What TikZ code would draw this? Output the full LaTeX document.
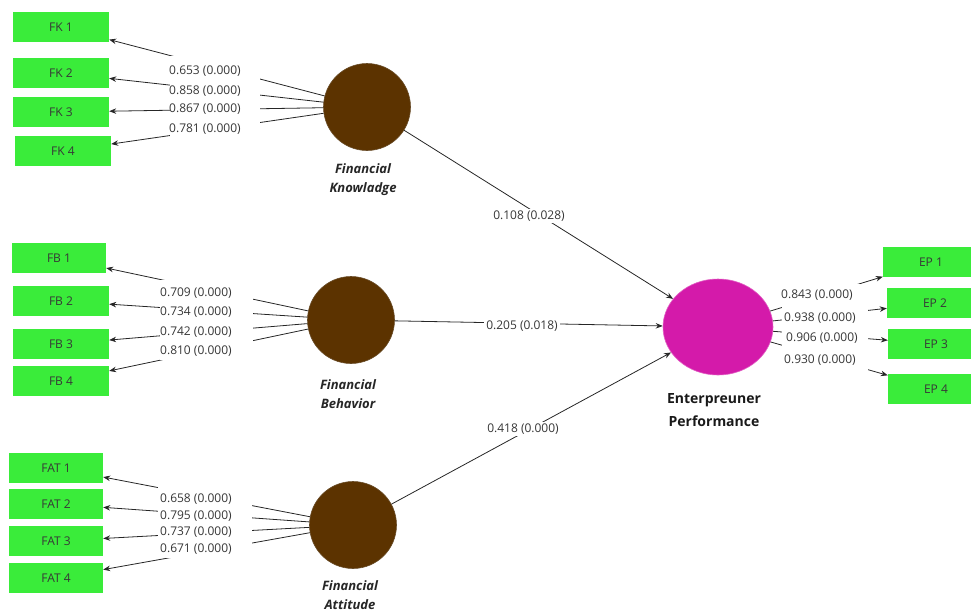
\documentclass[tikz,border=0pt]{standalone}
\usepackage{fontspec}
\setmainfont{Open Sans}
\usetikzlibrary{arrows.meta,shapes.geometric}
\definecolor{indgreen}{RGB}{58,236,58}
\definecolor{latbrown}{RGB}{92,51,0}
\definecolor{epmag}{RGB}{212,26,170}
\definecolor{txtgray}{RGB}{55,55,55}
\begin{document}
\begin{tikzpicture}[x=1pt,y=-1pt,
  ind/.style={fill=indgreen, minimum width=96pt, minimum height=30pt, inner sep=0pt,
    font=\fontsize{12}{14}\selectfont, text=txtgray},
  lat/.style={circle, fill=latbrown, draw=latbrown!70!gray, line width=0.6pt, minimum size=87pt, inner sep=0pt},
  ldg/.style={font=\fontsize{12}{14}\selectfont, anchor=west, inner sep=0pt, text=txtgray},
  cover/.style={fill=white, draw=none, inner sep=0pt},
  arr/.style={-{Stealth[length=7pt,width=5.5pt]}, line width=0.8pt, draw=black!85},
  lname/.style={font=\fontsize{13}{19}\selectfont\bfseries\itshape, align=center, text=black!85},
  ename/.style={font=\fontsize{14}{23}\selectfont\bfseries, align=center, text=black!90},
  pathlbl/.style={fill=white, inner sep=2pt, font=\fontsize{12}{14}\selectfont, text=txtgray}
]
\useasboundingbox (0,0) rectangle (971,611);
\clip (0,0) rectangle (971,611);

% indicators
\node[ind] (fk1) at (61,27) {FK 1};
\node[ind] (fk2) at (61,73) {FK 2};
\node[ind] (fk3) at (61,112) {FK 3};
\node[ind] (fk4) at (63,151) {FK 4};
\node[ind, minimum width=94pt] (fb1) at (59,258) {FB 1};
\node[ind] (fb2) at (61,301) {FB 2};
\node[ind] (fb3) at (61,344) {FB 3};
\node[ind] (fb4) at (61,381) {FB 4};
\node[ind, minimum width=94pt] (fat1) at (56,468) {FAT 1};
\node[ind, minimum width=94pt] (fat2) at (56,504) {FAT 2};
\node[ind, minimum width=94pt] (fat3) at (56,541) {FAT 3};
\node[ind, minimum width=94pt] (fat4) at (56,578) {FAT 4};
\node[ind] (ep1) at (931,262) {EP 1};
\node[ind] (ep2) at (935,303) {EP 2};
\node[ind] (ep3) at (936,344) {EP 3};
\node[ind] (ep4) at (936,389) {EP 4};

% latent variables
\node[lat] (fk) at (367,107) {};
\node[lat] (fb) at (351,320) {};
\node[lat] (fat) at (353,525) {};
\node[ellipse, fill=epmag, draw=epmag!70!white, line width=0.6pt, minimum width=110pt, minimum height=96pt, inner sep=0pt] (ep) at (718,327) {};

\node[lname] (fkname) at (363,180) {Financial\\Knowladge};
\node[lname] (fbname) at (348,394) {Financial\\Behavior};
\node[lname] (fatname) at (350,595) {Financial\\Attitude};
\node[ename] (epname) at (714,410) {Enterpreuner\\Performance};

% outer loadings
\foreach \i in {1,...,4} {
  \draw[arr] (fk) -- (fk\i);
  \draw[arr] (fb) -- (fb\i);
  \draw[arr] (fat) -- (fat\i);
  \draw[arr] (ep) -- (ep\i);
}

% structural paths
\draw[arr] (fk) -- (ep);
\draw[arr] (fb) -- (ep);
\draw[arr] (fat) -- (ep);

% covers behind loading labels
\node[cover, minimum width=90pt, minimum height=81pt] (fkcov) at (215,96.5) {};
\node[cover, minimum width=93pt, minimum height=80pt] (fbcov) at (206.5,320) {};
\node[cover, minimum width=94pt, minimum height=73pt] (fatcov) at (205,521.5) {};
\node[cover, minimum width=86pt, minimum height=89pt] (epcov) at (825,328) {};

\node[ldg] (l1) at (169,71) {0.653 (0.000)};
\node[ldg] (l2) at (169,91) {0.858 (0.000)};
\node[ldg] (l3) at (169,109) {0.867 (0.000)};
\node[ldg] (l4) at (169,129) {0.781 (0.000)};

\node[ldg] (l5) at (160,293) {0.709 (0.000)};
\node[ldg] (l6) at (160,312) {0.734 (0.000)};
\node[ldg] (l7) at (160,332) {0.742 (0.000)};
\node[ldg] (l8) at (160,351) {0.810 (0.000)};

\node[ldg] (l9) at (160,499) {0.658 (0.000)};
\node[ldg] (l10) at (160,516) {0.795 (0.000)};
\node[ldg] (l11) at (160,532) {0.737 (0.000)};
\node[ldg] (l12) at (160,549) {0.671 (0.000)};

\node[ldg] (l13) at (781,295) {0.843 (0.000)};
\node[ldg] (l14) at (784,318) {0.938 (0.000)};
\node[ldg] (l15) at (786,338) {0.906 (0.000)};
\node[ldg] (l16) at (784,360) {0.930 (0.000)};

% path coefficients
\node[pathlbl] (p1) at (529,216) {0.108 (0.028)};
\node[pathlbl] (p2) at (522,326) {0.205 (0.018)};
\node[pathlbl] (p3) at (523,429) {0.418 (0.000)};
\end{tikzpicture}
\end{document}
